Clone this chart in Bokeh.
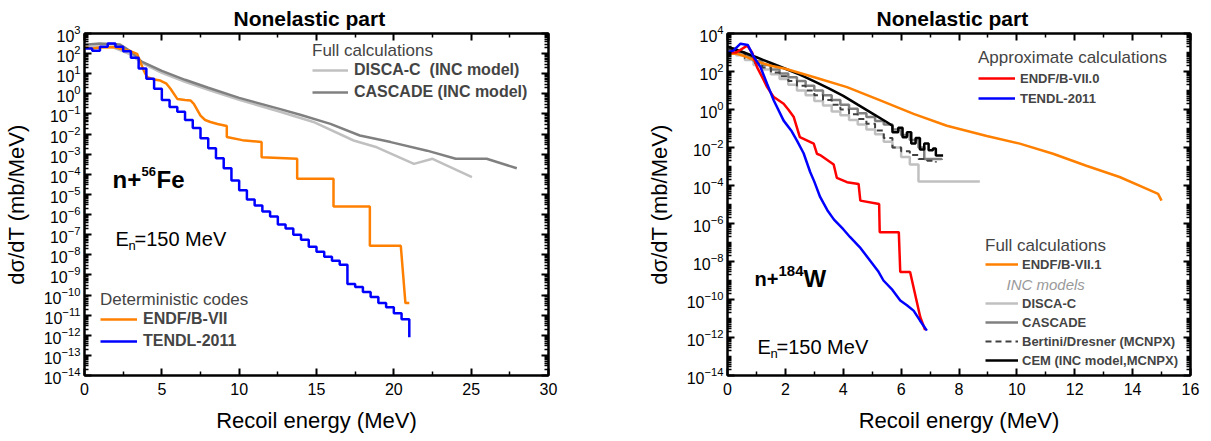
import numpy as np
from bokeh.plotting import figure
from bokeh.layouts import row
from bokeh.models import (Legend, LegendItem, Label, FixedTicker, LogAxis,
                          LinearAxis, CustomJSTickFormatter)
from bokeh.embed import file_html
from bokeh.resources import INLINE

FONT = "Liberation Sans"

# ---------------- left panel: n + 56Fe ----------------
fe_tendl_E = [0.0, 0.5, 1.0, 1.5, 2.0, 2.5, 3.0, 3.5, 4.0, 4.5, 5.0, 5.5, 6.0, 6.5, 7.0,
              7.5, 8.0, 8.5, 9.0, 9.5, 10.0, 10.5, 11.0, 11.5, 12.0, 12.5, 13.0, 13.5,
              14.0, 14.5, 15.0, 15.5, 16.0, 16.5, 17.0, 17.5, 18.0, 18.5, 19.0, 19.5,
              20.0, 20.5, 21.0]
fe_tendl_v = [1.8e2, 1.4e2, 2.2e2, 3.2e2, 2.2e2, 1.3e2, 63, 18, 5.6, 1.8, 0.5, 0.22, 0.13,
              0.05, 0.02, 6.3e-3, 2.0e-3, 6.3e-4, 2.0e-4, 5.0e-5, 1.6e-5, 5.6e-6, 2.8e-6,
              1.4e-6, 7.9e-7, 3.2e-7, 2.0e-7, 1.0e-7, 5.6e-8, 2.5e-8, 1.4e-8, 7.9e-9,
              5.0e-9, 3.2e-9, 3.5e-10, 2.5e-10, 1.4e-10, 7.9e-11, 4.0e-11, 2.5e-11,
              1.26e-11, 6.3e-12, 7.9e-13]

fe_endf_E = [0, 0.5, 1.0, 1.9, 2.5, 3.0, 3.4, 3.6, 3.83, 4.05, 4.5, 4.9, 5.3, 5.56, 6.0,
             6.5, 6.85, 7.07, 7.5, 7.8, 8.14, 8.6, 9.2, 9.2, 10.2, 11.45, 11.45, 13.75,
             13.75, 16.1, 16.1, 18.45, 18.45, 20.45, 20.75, 21.0]
fe_endf_v = [2.0e2, 1.8e2, 2.0e2, 2.1e2, 1.6e2, 1.3e2, 98, 40, 14.5, 6.8, 5.2, 4.6, 3.2,
             1.8, 0.56, 0.5, 0.47, 0.32, 0.083, 0.05, 0.04, 0.032, 0.025, 7.1e-3, 5.0e-3,
             4.0e-3, 7.1e-4, 5.9e-4, 6.0e-5, 6.0e-5, 2.5e-6, 2.5e-6, 2.8e-8, 2.8e-8,
             4.0e-11, 4.0e-11]

fe_disca_E = [0, 1.8, 3.0, 3.7, 5, 6.5, 8, 10, 12.7, 14.8, 17.4, 18.9, 21.3, 22.5, 25.05]
fe_disca_v = [2.5e2, 2.1e2, 89, 35, 11, 4.0, 1.6, 0.5, 0.126, 0.04, 4.8e-3, 2.2e-3,
              3.3e-4, 5.9e-4, 7.2e-5]

fe_cascade_E = [0, 1, 2.3, 3.0, 3.7, 5, 6.5, 8, 10, 12.6, 14, 15.9, 17.8, 19.8, 22.15,
                24, 26, 27.95]
fe_cascade_v = [2.8e2, 3.2e2, 2.8e2, 1.26e2, 40, 14, 5.0, 2.0, 0.63, 0.18, 0.089, 0.032,
                8.5e-3, 4.0e-3, 1.5e-3, 5.9e-4, 5.9e-4, 2.0e-4]

# ---------------- right panel: n + 184W ----------------
w_endf0_E = [0, 0.3, 0.68, 0.85, 1.02, 1.2, 1.37, 1.6, 1.94, 2.1, 2.29, 2.5, 2.98, 3.09,
             3.2, 3.67, 3.78, 4.13, 4.53, 4.59, 5.24, 5.26, 5.92, 5.97, 6.31, 6.66, 6.83]
w_endf0_v = [1.0e3, 1.0e3, 2.3e3, 1.0e3, 1.7e2, 50, 15, 4.5, 2.0, 1.0, 0.4, 0.035, 0.016,
             4.7e-3, 4.0e-3, 1.26e-3, 2.5e-4, 1.5e-4, 1.2e-4, 1.6e-5, 1.05e-5, 3.5e-7,
             3.5e-7, 2.8e-9, 2.8e-9, 1.2e-11, 2.5e-12]

w_tendl_E = [0, 0.2, 0.45, 0.7, 0.9, 1.14, 1.37, 1.6, 1.94, 2.2, 2.4, 2.63, 2.86, 3.0,
             3.2, 3.45, 3.68, 4.0, 4.24, 4.6, 4.93, 5.2, 5.39, 5.7, 5.97, 6.2, 6.43,
             6.65, 6.89]
w_tendl_v = [1.0e3, 1.26e3, 2.9e3, 2.5e3, 6.3e2, 1.7e2, 22, 3.0, 0.26, 0.079, 0.023,
             5.0e-3, 5.0e-4, 1.6e-4, 2.5e-5, 5.0e-6, 1.6e-6, 5.0e-7, 1.9e-7, 5.0e-8,
             1.1e-8, 3.2e-9, 1.0e-9, 3.2e-10, 8.9e-11, 5.0e-11, 2.6e-11, 7.9e-12, 2.3e-12]

w_endf1_E = [0, 0.3, 0.6, 1.0, 1.5, 2.0, 3.0, 4.13, 5.28, 6.43, 7.58, 8.96, 10.1, 11.25,
             12.4, 13.55, 14.47, 14.88, 15.0]
w_endf1_v = [8.5e2, 8.9e2, 6.3e2, 3.5e2, 2.0e2, 1.4e2, 50, 15, 3.0, 0.59, 0.14, 0.04,
             0.016, 4.7e-3, 1.1e-3, 2.8e-4, 6.8e-5, 3.6e-5, 1.6e-5]

w_disca_E = [0, 0.3, 0.6, 0.9, 1.2, 1.5, 1.8, 2.1, 2.4, 2.7, 3.0, 3.3, 3.6, 3.9, 4.2,
             4.5, 4.8, 5.1, 5.4, 5.7, 6.0, 6.3, 6.6, 8.72]
w_disca_v = [1.26e3, 7.1e2, 4.0e2, 2.2e2, 1.26e2, 71, 40, 20, 10, 5.6, 2.8, 1.6, 0.79,
             0.5, 0.28, 0.16, 0.089, 0.05, 0.02, 0.01, 3.2e-3, 1.26e-3, 1.6e-4, 1.6e-4]

w_cascade_E = [0, 0.3, 0.6, 0.9, 1.2, 1.5, 1.8, 2.1, 2.4, 2.7, 3.0, 3.3, 3.6, 3.9, 4.2,
               4.5, 4.8, 5.1, 5.4, 5.7, 6.0, 6.3, 6.6, 6.8, 7.4]
w_cascade_v = [1.6e3, 1.0e3, 6.3e2, 3.5e2, 2.2e2, 1.26e2, 79, 50, 32, 18, 10, 5.6, 3.2,
               1.8, 1.1, 0.63, 0.4, 0.25, 0.16, 0.089, 0.045, 0.025, 0.01, 2.5e-3, 2.2e-3]

w_bertini_E = [0, 0.3, 0.6, 0.9, 1.2, 1.5, 1.8, 2.1, 2.4, 2.7, 3.0, 3.3, 3.6, 3.9, 4.2,
               4.5, 4.8, 5.1, 5.4, 5.7, 6.0, 6.3, 6.6, 6.9, 7.2]
w_bertini_v = [1.4e3, 8.9e2, 5.0e2, 2.8e2, 1.6e2, 89, 56, 32, 18, 10, 5.6, 3.2, 1.8, 1.0,
               0.56, 0.32, 0.18, 0.079, 0.032, 0.01, 6.3e-3, 4.0e-3, 2.5e-3, 2.0e-3, 1.6e-3]

w_cem_E = [0, 0.5, 1.0, 1.5, 2.0, 2.5, 3.0, 3.5, 4.0, 4.5, 5.0, 5.5, 5.7, 5.7, 5.9, 5.9,
           6.05, 6.05, 6.2, 6.2, 6.35, 6.35, 6.5, 6.5, 6.65, 6.65, 6.8, 6.8, 6.95, 6.95,
           7.1, 7.1, 7.2, 7.2, 7.45]
w_cem_v = [2.0e3, 1.1e3, 5.6e2, 2.8e2, 1.4e2, 68, 30, 13, 5.2, 1.8, 0.63, 0.22, 0.14,
           0.063, 0.063, 0.11, 0.11, 0.035, 0.035, 0.063, 0.063, 0.016, 0.016, 0.032,
           0.032, 7.9e-3, 7.9e-3, 0.016, 0.016, 7.1e-3, 7.1e-3, 8.9e-3, 8.9e-3, 3.8e-3,
           3.8e-3]

ORANGE = "#FF8000"
BLUE = "#0000FF"
RED = "#FF0000"
LGRAY = "#C0C0C0"
DGRAY = "#808080"
LW = 2.5


def blank():
    return CustomJSTickFormatter(code="return ''")


def make_fig(xmax, ymin, ymax, xt, xm, yt, ym, frame_w, bl, br):
    p = figure(x_range=(0, xmax), y_range=(ymin, ymax), y_axis_type="log",
               frame_width=frame_w, frame_height=342,
               min_border_left=bl, min_border_right=br, min_border_top=33,
               min_border_bottom=50, output_backend="svg", toolbar_location=None,
               background_fill_color="white", border_fill_color="white",
               title="Nonelastic part")
    p.title.align = "left"
    p.title.offset = 149
    p.title.text_font = FONT
    p.title.text_font_size = "21px"
    p.title.text_font_style = "bold"
    p.title.text_color = "black"
    p.title.standoff = 7
    p.grid.visible = False
    p.outline_line_color = "black"
    p.outline_line_width = 2
    xax = p.below[0]
    yax = p.left[0]
    xax.ticker = FixedTicker(ticks=xt, minor_ticks=xm)
    yax.ticker = FixedTicker(ticks=yt, minor_ticks=ym)
    top = LinearAxis(ticker=FixedTicker(ticks=xt, minor_ticks=xm), formatter=blank())
    right = LogAxis(ticker=FixedTicker(ticks=yt, minor_ticks=ym), formatter=blank())
    p.add_layout(top, "above")
    p.add_layout(right, "right")
    for ax in (xax, yax, top, right):
        ax.axis_line_width = 2
        ax.major_tick_in = 7
        ax.major_tick_out = 0
        ax.minor_tick_in = 4
        ax.minor_tick_out = 0
        ax.major_tick_line_width = 2
        ax.minor_tick_line_width = 1.5
        ax.major_label_text_font = FONT
        ax.major_label_text_font_size = "16px"
        ax.major_label_text_color = "black"
        ax.major_label_standoff = 4
    xax.major_label_standoff = 7
    for ax in (top, right):
        ax.major_label_standoff = 0
    xax.axis_label = "Recoil energy (MeV)"
    yax.axis_label = "dσ/dT (mb/MeV)"
    for ax in (xax, yax):
        ax.axis_label_text_font = FONT
        ax.axis_label_text_font_size = "22px"
        ax.axis_label_text_font_style = "normal"
        ax.axis_label_text_color = "black"
    xax.axis_label_standoff = 10
    yax.axis_label_standoff = 12
    return p


def lab(p, x, y, text, size, style="normal", color="black"):
    p.add_layout(Label(x=x, y=y, x_units="screen", y_units="screen", text=text,
                       text_baseline="alphabetic", text_font=FONT,
                       text_font_size=size, text_font_style=style, text_color=color))


def legend(items, x, y, title=None, label_size="16px", title_size="17px",
           gw=36, gh=18, spacing=4, standoff=6, tstand=0):
    kw = {}
    if title:
        kw = dict(title=title, title_text_font=FONT, title_text_font_size=title_size,
                  title_text_font_style="normal", title_standoff=tstand)
    return Legend(items=items, location=(x, y), padding=0, margin=0,
                  border_line_color=None, background_fill_alpha=0,
                  label_text_font=FONT, label_text_font_size=label_size,
                  label_text_font_style="bold", glyph_width=gw, glyph_height=gh,
                  label_height=gh, spacing=spacing, label_standoff=standoff, **kw)


# ---------- left figure ----------
xt1 = [0, 5, 10, 15, 20, 25, 30]
xm1 = [2.5, 7.5, 12.5, 17.5, 22.5, 27.5]
yt1 = [10.0 ** k for k in range(-14, 4)]
ym1 = [m * 10.0 ** k for k in range(-14, 3) for m in range(2, 10)]
p1 = make_fig(30, 1e-14, 1e3, xt1, xm1, yt1, ym1, 464, 76, 92)

r_fe_disca = p1.line(fe_disca_E, fe_disca_v, line_color=LGRAY, line_width=LW)
r_fe_casc = p1.line(fe_cascade_E, fe_cascade_v, line_color=DGRAY, line_width=LW)
r_fe_endf = p1.line(fe_endf_E, fe_endf_v, line_color=ORANGE, line_width=LW)
r_fe_tendl = p1.step(fe_tendl_E, fe_tendl_v, mode="after", line_color=BLUE, line_width=LW)

p1.add_layout(legend([LegendItem(label="DISCA-C  (INC model)", renderers=[r_fe_disca]),
                      LegendItem(label="CASCADE (INC model)", renderers=[r_fe_casc])],
                     228, 274, title="Full calculations"))
p1.add_layout(legend([LegendItem(label="ENDF/B-VII", renderers=[r_fe_endf]),
                      LegendItem(label="TENDL-2011", renderers=[r_fe_tendl])],
                     16, 25, title="Deterministic codes", gw=37))

lab(p1, 28, 196, "n+", "24px", "bold")
lab(p1, 57, 204, "56", "13px", "bold")
lab(p1, 72, 196, "Fe", "24px", "bold")
lab(p1, 31, 137, "E", "20px")
lab(p1, 44, 130, "n", "13px")
lab(p1, 50, 137, "=150 MeV", "20px")

# ---------- right figure ----------
xt2 = [0, 2, 4, 6, 8, 10, 12, 14, 16]
xm2 = [1, 3, 5, 7, 9, 11, 13, 15]
yt2 = [10.0 ** k for k in range(-14, 5, 2)]
ym2 = [m * 10.0 ** k for k in range(-14, 4) for m in range(1, 10)
       if not (m == 1 and k % 2 == 0)]
p2 = make_fig(16, 1e-14, 1e4, xt2, xm2, yt2, ym2, 463, 87, 13)

r_w_disca = p2.step(w_disca_E, w_disca_v, mode="after", line_color=LGRAY, line_width=LW)
r_w_casc = p2.step(w_cascade_E, w_cascade_v, mode="after", line_color=DGRAY, line_width=LW)
r_w_bert = p2.step(w_bertini_E, w_bertini_v, mode="after", line_color="#404040",
                   line_width=2, line_dash="6 4")
r_w_cem = p2.line(w_cem_E, w_cem_v, line_color="black", line_width=LW)
r_w_endf1 = p2.line(w_endf1_E, w_endf1_v, line_color=ORANGE, line_width=LW)
r_w_endf0 = p2.line(w_endf0_E, w_endf0_v, line_color=RED, line_width=LW)
r_w_tendl = p2.line(w_tendl_E, w_tendl_v, line_color=BLUE, line_width=LW)

p2.add_layout(legend([LegendItem(label="ENDF/B-VII.0", renderers=[r_w_endf0]),
                      LegendItem(label="TENDL-2011", renderers=[r_w_tendl])],
                     251, 269, title="Approximate calculations", label_size="13px",
                     gw=37, gh=16, spacing=4, standoff=5, tstand=2))
p2.add_layout(legend([LegendItem(label="ENDF/B-VII.1", renderers=[r_w_endf1])],
                     258, 103, title="Full calculations", label_size="13px",
                     gw=33, gh=16, spacing=3, standoff=4))
p2.add_layout(legend([LegendItem(label="DISCA-C", renderers=[r_w_disca]),
                      LegendItem(label="CASCADE", renderers=[r_w_casc]),
                      LegendItem(label="Bertini/Dresner (MCNPX)", renderers=[r_w_bert]),
                      LegendItem(label="CEM (INC model,MCNPX)", renderers=[r_w_cem])],
                     258, 7, label_size="13px", gw=33, gh=16, spacing=3, standoff=4))
lab(p2, 279, 91, "INC models", "15px", "italic", "#999999")

lab(p2, 27, 97, "n+", "20px", "bold")
lab(p2, 51, 105, "184", "15px", "bold")
lab(p2, 76, 97, "W", "24px", "bold")
lab(p2, 30, 29, "E", "20px")
lab(p2, 43, 22, "n", "13px")
lab(p2, 49, 29, "=150 MeV", "20px")

layout = row(p1, p2)
open("out.html", "w").write(file_html(layout, INLINE))
